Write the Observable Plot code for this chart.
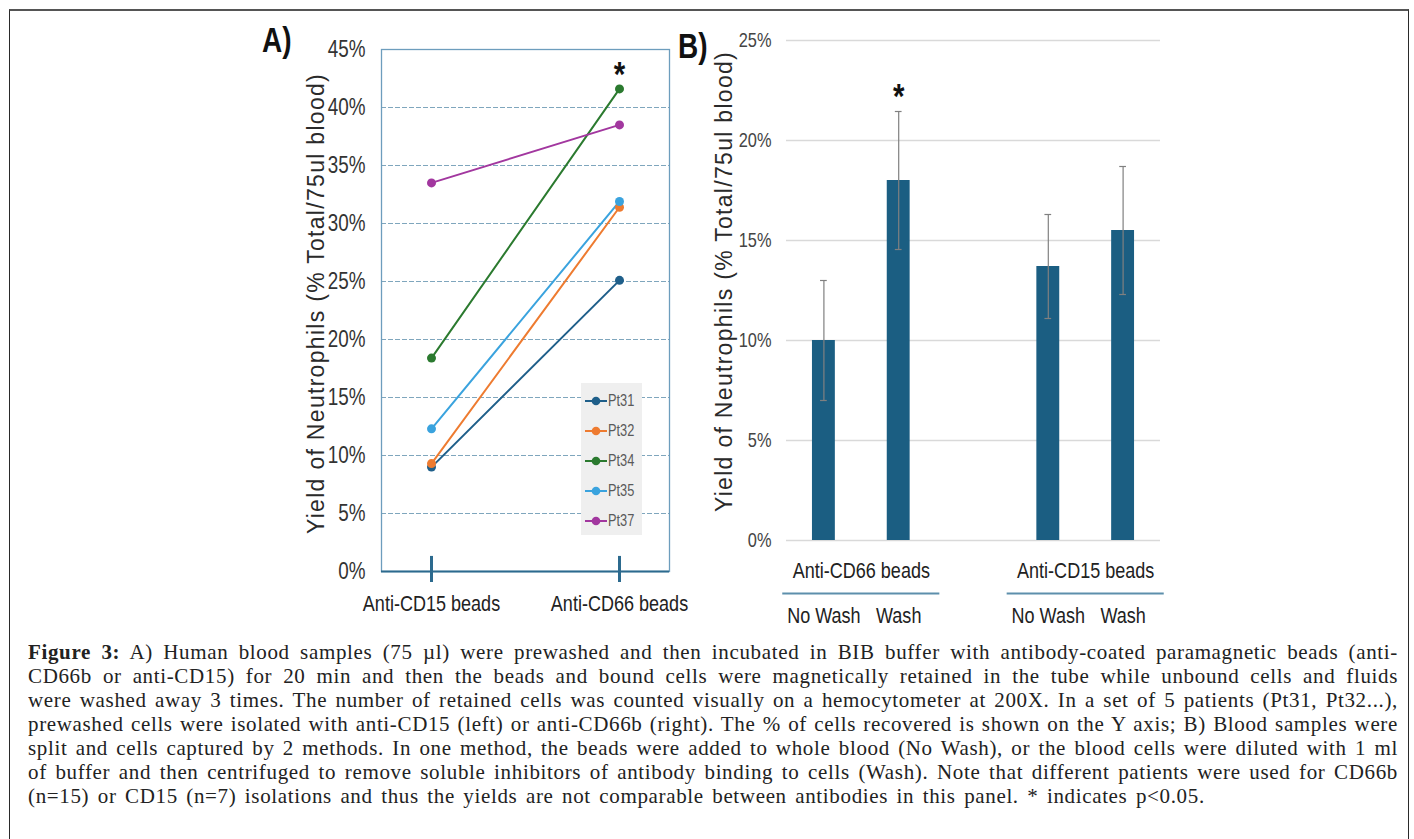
<!DOCTYPE html>
<html>
<head>
<meta charset="utf-8">
<script src="https://cdn.jsdelivr.net/npm/d3@7"></script>
<script src="https://cdn.jsdelivr.net/npm/@observablehq/plot@0.6"></script>
<style>
  html, body { margin: 0; padding: 0; background: #fff; width: 1414px; height: 839px; overflow: hidden; }
  #frameBox { position: absolute; left: 9px; top: 9px; width: 1398px; height: 850px;
    border-left: 1.5px solid #2a2a2a; border-right: 1.5px solid #2a2a2a; border-top: 2px solid #555; }
  .narrow { font-family: "Liberation Sans", Arial, sans-serif; }
  #panelA, #panelB { position: absolute; top: 0; }
  #panelA { left: 0; }
  #panelB { left: 700px; }
  .plabel { position: absolute; font-weight: bold; font-size: 35px; line-height: 35px; color: #111;
    transform: scaleX(0.8); transform-origin: left top; }
  #legend { position: absolute; left: 581px; top: 383px; width: 61px; height: 152px; background: #efefef; }
  .lgItem { position: absolute; left: 0; height: 20px; width: 61px; }
  .lgItem svg { position: absolute; left: 3px; top: 0; }
  .lgItem span { position: absolute; left: 27px; top: 1px; font-size: 16px; line-height: 18px; color: #5a5a5a;
    transform: scaleX(0.8); transform-origin: left top; }
  #caption { position: absolute; left: 28px; top: 640px; width: 1370px;
    font-family: "Liberation Serif", "Times New Roman", serif; font-size: 21px; letter-spacing: 0.65px; color: #222; }
  #caption div { height: 24px; line-height: 24px; text-align: justify; text-align-last: justify; white-space: normal; overflow: hidden; }
  #caption div.last { text-align-last: left; word-spacing: 2.6px; }
</style>
</head>
<body>
<div id="frameBox"></div>
<div id="panelA"></div>
<div id="panelB"></div>
<div class="plabel narrow" style="left:262px; top:22px;">A)</div>
<div class="plabel narrow" style="left:678px; top:28px;">B)</div>
<div id="legend" class="narrow"></div>
<div id="caption"></div>
<script>
// ---------- Panel A data ----------
const beads = ["Anti-CD15 beads", "Anti-CD66 beads"];
const patients = ["Pt31", "Pt32", "Pt34", "Pt35", "Pt37"];
const cd15Yield = [9.0, 9.3, 18.4, 12.3, 33.5];
const cd66Yield = [25.1, 31.4, 41.6, 31.9, 38.5];
const patientColors = ["#1f5f8a", "#ee7b30", "#2b7a2f", "#3aa3de", "#a2379f"];
const yTicksA = [0, 5, 10, 15, 20, 25, 30, 35, 40, 45];
const sigPatientA = "Pt34";

// ---------- Panel B data ----------
const bGroups = ["Anti-CD66 beads", "Anti-CD15 beads"];
const bMethods = ["No Wash", "Wash"];
const bMeans = [10.0, 18.0, 13.7, 15.5];     // CD66 NoWash, CD66 Wash, CD15 NoWash, CD15 Wash
const bErrors = [3.0, 3.45, 2.6, 3.2];
const bSignificant = [false, true, false, false];
const yTicksB = [0, 5, 10, 15, 20, 25];

const yTitle = "Yield of Neutrophils (% Total/75ul blood)";
const SANS = '"Liberation Sans", Arial, sans-serif';
const CONDENSE = 0.82;

function condense(svg) {
  svg.querySelectorAll("text").forEach(t => {
    if (t.textContent === yTitle) {
      t.setAttribute("letter-spacing", "1.3");
      return;
    }
    const tr = t.getAttribute("transform") || "";
    t.setAttribute("transform", tr + ` scale(${CONDENSE},1)`);
  });
}

// ---------- Panel A ----------
const dataA = patients.flatMap((p, i) => [
  {patient: p, bead: beads[0], value: cd15Yield[i]},
  {patient: p, bead: beads[1], value: cd66Yield[i]}
]);
const sigA = dataA.filter(d => d.patient === sigPatientA && d.bead === beads[1]);

const plotA = Plot.plot({
  width: 700, height: 640,
  marginLeft: 381, marginRight: 31, marginTop: 49, marginBottom: 69,
  style: {fontFamily: SANS, background: "transparent", overflow: "visible", color: "#333"},
  x: {type: "point", domain: beads, padding: 0.262},
  y: {domain: [0, 45]},
  color: {domain: patients, range: patientColors},
  marks: [
    Plot.ruleY(yTicksA.filter(v => v > 0 && v < 45), {stroke: "#7fa6bd", strokeDasharray: "5,2", strokeWidth: 1.2}),
    Plot.frame({stroke: "#6d9dbd", strokeWidth: 1.3}),
    Plot.ruleY([0], {stroke: "#2c6a8e", strokeWidth: 2.2}),
    Plot.ruleX(beads, {x: d => d, y1: -0.95, y2: 1.3, stroke: "#2c6a8e", strokeWidth: 3}),
    Plot.axisY({ticks: yTicksA, tickFormat: d => d + "%", tickSize: 0, tickPadding: 16, fontSize: 23, label: null}),
    Plot.axisX({tickSize: 0, tickPadding: 24, fontSize: 22, fill: "#222", label: null}),
    Plot.line(dataA, {x: "bead", y: "value", stroke: "patient", z: "patient", strokeWidth: 2}),
    Plot.dot(dataA, {x: "bead", y: "value", fill: "patient", r: 4.5}),
    Plot.text(sigA, {x: "bead", y: "value", text: () => "*", dy: -14, fontSize: 36, fontWeight: "bold", fill: "#111"}),
    Plot.text([yTitle], {frameAnchor: "left", textAnchor: "middle", rotate: -90, dx: -65, dy: -7, fontSize: 23,
      fill: "#2a2a2a"})
  ]
});
condense(plotA);
document.getElementById("panelA").append(plotA);

// Legend for panel A
const legend = document.getElementById("legend");
patients.forEach((p, i) => {
  const item = document.createElement("div");
  item.className = "lgItem";
  item.style.top = (8 + i * 30) + "px";
  item.innerHTML = `<svg width="24" height="20"><line x1="1" y1="10" x2="23" y2="10" stroke="${patientColors[i]}" stroke-width="2"/><circle cx="12" cy="10" r="4.3" fill="${patientColors[i]}"/></svg><span>${p}</span>`;
  legend.append(item);
});

// ---------- Panel B ----------
const dataB = bMeans.map((m, i) => {
  const g = Math.floor(i / 2), k = i % 2;
  return {group: bGroups[g], method: bMethods[k], slot: g * 3 + k, mean: m,
          lo: m - bErrors[i], hi: m + bErrors[i], sig: bSignificant[i]};
});
const groupsB = bGroups.map(g => {
  const s = dataB.filter(d => d.group === g).map(d => d.slot);
  return {group: g, center: d3.mean(s), x1: d3.min(s) - 0.55, x2: d3.max(s) + 0.55};
});
const capsB = dataB.flatMap(d => [{slot: d.slot, y: d.lo}, {slot: d.slot, y: d.hi}]);

const plotB = Plot.plot({
  width: 500, height: 640,
  marginLeft: 86, marginRight: 40, marginTop: 40, marginBottom: 100,
  style: {fontFamily: SANS, background: "transparent", overflow: "visible", color: "#444"},
  x: {type: "linear", domain: [-0.5, 4.5]},
  y: {domain: [0, 25]},
  marks: [
    Plot.ruleY(yTicksB, {stroke: "#d9d9d9", strokeWidth: 1.3}),
    Plot.rectY(dataB, {x1: d => d.slot - 0.153, x2: d => d.slot + 0.153, y: "mean", fill: "#1b5e82"}),
    Plot.ruleX(dataB, {x: "slot", y1: "lo", y2: "hi", stroke: "#808080", strokeWidth: 1.2}),
    Plot.ruleY(capsB, {y: "y", x1: d => d.slot - 0.045, x2: d => d.slot + 0.045, stroke: "#808080", strokeWidth: 1.2}),
    Plot.axisY({ticks: yTicksB, tickFormat: d => d + "%", tickSize: 0, tickPadding: 15, fontSize: 20, label: null}),
    Plot.axisX({ticks: dataB.map(d => d.slot), tickFormat: s => dataB.find(d => d.slot === s).method,
      tickSize: 0, tickPadding: 67, fontSize: 22, fill: "#222", label: null}),
    Plot.text(groupsB, {x: "center", text: "group", frameAnchor: "bottom", dy: 37, fontSize: 22, fill: "#222"}),
    Plot.ruleY(groupsB, {y: () => 0, x1: "x1", x2: "x2", dy: 53, stroke: "#5d8fac", strokeWidth: 2}),
    Plot.text(dataB.filter(d => d.sig), {x: "slot", y: "hi", text: () => "*", dy: -15, fontSize: 36, fontWeight: "bold", fill: "#111"}),
    Plot.text([yTitle], {frameAnchor: "left", textAnchor: "middle", rotate: -90, dx: -62, dy: -9, fontSize: 23,
      fill: "#2a2a2a"})
  ]
});
condense(plotB);
document.getElementById("panelB").append(plotB);

// ---------- Caption ----------
const captionLines = [
  "<b>Figure 3:</b> A) Human blood samples (75 µl) were prewashed and then incubated in BIB buffer with antibody-coated paramagnetic beads (anti-",
  "CD66b or anti-CD15) for 20 min and then the beads and bound cells were magnetically retained in the tube while unbound cells and fluids",
  "were washed away 3 times. The number of retained cells was counted visually on a hemocytometer at 200X. In a set of 5 patients (Pt31, Pt32...),",
  "prewashed cells were isolated with anti-CD15 (left) or anti-CD66b (right). The % of cells recovered is shown on the Y axis; B) Blood samples were",
  "split and cells captured by 2 methods. In one method, the beads were added to whole blood (No Wash), or the blood cells were diluted with 1 ml",
  "of buffer and then centrifuged to remove soluble inhibitors of antibody binding to cells (Wash). Note that different patients were used for CD66b",
  "(n=15) or CD15 (n=7) isolations and thus the yields are not comparable between antibodies in this panel. * indicates p&lt;0.05."
];
const cap = document.getElementById("caption");
captionLines.forEach((t, i) => {
  const d = document.createElement("div");
  if (i === captionLines.length - 1) d.className = "last";
  d.innerHTML = t;
  cap.append(d);
});
</script>
</body>
</html>
